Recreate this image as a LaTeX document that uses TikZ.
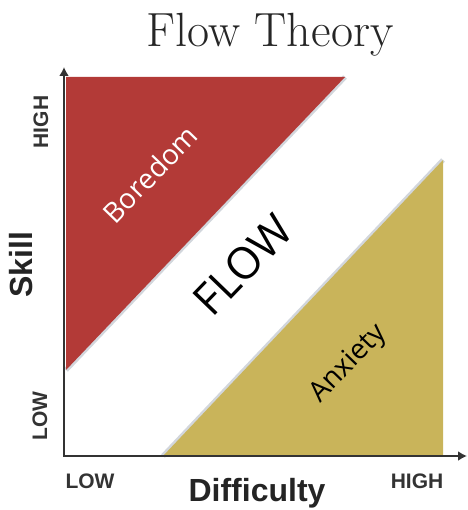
\documentclass[tikz,border=0pt]{standalone}
\usepackage{fontspec}
\setsansfont{Liberation Sans}
\newfontfamily\zonefont{Open Sans}
\usetikzlibrary{arrows.meta}
\definecolor{boredred}{HTML}{B33A37}
\definecolor{anxgold}{HTML}{C9B45A}
\definecolor{edgegray}{HTML}{D2D6DC}
\definecolor{axisgray}{HTML}{333333}
\tikzset{>={Latex[length=9pt,width=10pt]}}
\tikzset{
	axis/.style={axisgray,line width=2.5pt},
	axislabel/.style={text=axisgray,font=\sffamily\bfseries\fontsize{21}{24}\selectfont,inner sep=0pt},
	axistitle/.style={text=axisgray!70!black,font=\sffamily\bfseries\fontsize{32}{35}\selectfont,inner sep=0pt},
	zonelabel/.style={font=\zonefont\fontsize{28}{31}\selectfont,inner sep=0pt,rotate=46},
}

\begin{document}
\begin{tikzpicture}[x=1pt,y=-1pt]
		\useasboundingbox (0,0) rectangle (467,510);
		% Title
		\node[anchor=base,font=\fontsize{48}{52}\selectfont,text=black!85] (title) at (270,47) {Flow Theory};
		% Boredom
		\draw[edgegray,line width=5pt] (66,370) -- (345,77);
		\fill[boredred] plot coordinates {(66,77) (345,77) (66,370) (66,77)};
		% Anxiety
		\draw[edgegray,line width=5pt] (163,456) -- (443,160);
		\fill[anxgold] plot coordinates {(163,456) (443,456) (443,160) (163,456)};
		% Axes
		\coordinate (skilltop) at (64,67);
		\coordinate (difftop) at (467,456);
		\draw[axis,<->] (skilltop) |- (difftop);
		% Skill labels
		\node[axislabel,rotate=90] (skillhigh) at (41,122) {HIGH};
		\node[axislabel,rotate=90] (skilllow) at (40,416) {LOW};
		\node[axistitle,rotate=90] (skill) at (21,265) {Skill};
		% Difficulty labels
		\node[axislabel,anchor=base] (difflow) at (90,488) {LOW};
		\node[axislabel,anchor=base] (diffhigh) at (417,488) {HIGH};
		\node[axistitle,anchor=base] (difficulty) at (257,501) {Difficulty};
		% Zones
		\node[zonelabel,text=white] (boredom) at (150,174) {Boredom};
		\node[zonelabel,font=\zonefont\fontsize{44}{48}\selectfont] (flow) at (243,265) {FLOW};
		\node[zonelabel] (anxiety) at (349,364) {Anxiety};
	\end{tikzpicture}
\end{document}
